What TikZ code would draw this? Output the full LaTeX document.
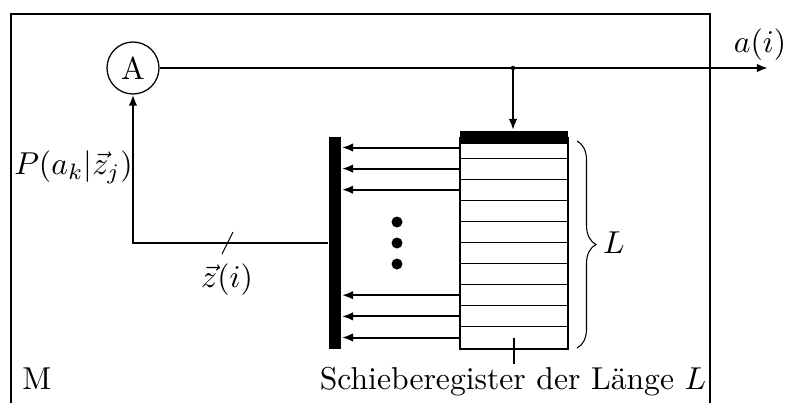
\documentclass[tikz,border=0pt]{standalone}
\usetikzlibrary{arrows.meta,decorations.pathreplacing}
\def\u{0.316}
\begin{document}
\begin{tikzpicture}[x=\u pt,y=-\u pt,line width=2*\u pt,
  >={Latex[length=3.5pt,width=2.7pt]},
  cellline/.style={line width=0.34pt},
  thinline/.style={line width=0.34pt}]
\useasboundingbox (0,0) rectangle (785,403);
% frame
\draw (11,403) -- (11,14) -- (710,14) -- (710,403);
% node A
\node[circle,draw,line width=0.4pt,minimum size=52*\u pt,inner sep=0pt] (A) at (133,68) {A};
\coordinate (J) at (513,68);
\coordinate (out) at (768,68);
\draw[->] (A) -- (out);
\fill (J) circle (2.2);
\node at (760,45) {$a(i)$};
% register
\node[draw,minimum width=108*\u pt,minimum height=211*\u pt,inner sep=0pt,anchor=north west] (R) at (459,137) {};
\foreach \i in {1,...,9} \draw[cellline] (459,{137+\i*21.1}) -- (567,{137+\i*21.1});
\node[fill,minimum width=108*\u pt,minimum height=13*\u pt,inner sep=0pt,anchor=north west] (top) at (459,130) {};
\draw[->] (J) -- (J |- top.north);
% collector bar
\node[fill,minimum width=12*\u pt,minimum height=212*\u pt,inner sep=0pt,anchor=north west] (bar) at (328,136) {};
\foreach \y in {147.5,168.6,189.7,295.2,316.4,337.5}
  \draw[->] (R.west |- 0,\y) -- (bar.east |- 0,\y);
% dots
\foreach \y in {222,243,264} \fill (397,\y) circle (5.5);
% feedback
\draw[->] (bar.west |- 0,243) -| (A.south);
\draw[thinline] (222,254) -- (233,232);
\node at (227,280) {$\vec z(i)$};
\node[inner sep=0pt] at (73.5,167) {$P(a_k|\vec z_j)$};
% brace
\draw[thinline,decorate,decoration={brace,amplitude=19*\u pt}] (577,141) -- (577,348);
\node at (614,243) {$L$};
% label
\draw[thinline] (514,338) -- (514,364);
\node[anchor=base] at (513,389) {Schieberegister der Länge $L$};
\node[anchor=base] at (37,389) {M};
\end{tikzpicture}
\end{document}
